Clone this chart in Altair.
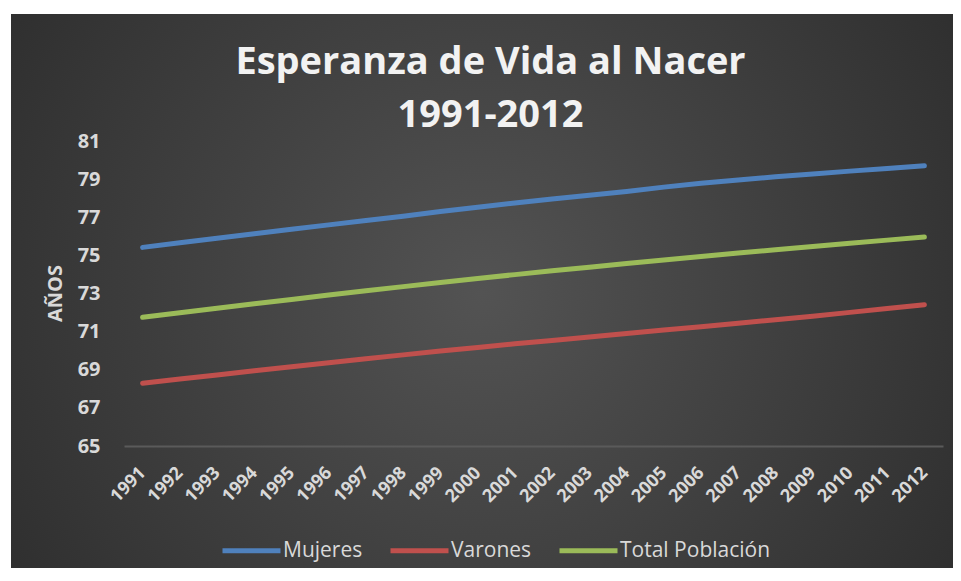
import altair as alt
import pandas as pd

years = list(range(1991, 2013))
mujeres = [75.42, 75.66, 75.90, 76.14, 76.37, 76.60, 76.83, 77.05, 77.30, 77.53, 77.75,
           77.96, 78.16, 78.35, 78.58, 78.78, 78.95, 79.12, 79.27, 79.42, 79.56, 79.70]
varones = [68.29, 68.51, 68.73, 68.95, 69.16, 69.37, 69.58, 69.78, 69.98, 70.17, 70.36,
           70.54, 70.72, 70.90, 71.08, 71.26, 71.44, 71.62, 71.81, 72.01, 72.21, 72.41]
total = [71.75, 71.99, 72.23, 72.46, 72.69, 72.92, 73.14, 73.36, 73.58, 73.79, 73.99,
         74.19, 74.38, 74.57, 74.76, 74.94, 75.12, 75.30, 75.47, 75.64, 75.80, 75.96]
series = ["Mujeres", "Varones", "Total Población"]
colors = ["#4F81BD", "#C0504D", "#9BBB59"]
y_ticks = [65, 67, 69, 71, 73, 75, 77, 79, 81]

rows = []
for name, vals in zip(series, [mujeres, varones, total]):
    for yr, v in zip(years, vals):
        rows.append({"Año": str(yr), "Serie": name, "Valor": v})
df = pd.DataFrame(rows)

FONT = "Open Sans"
W, H = 819, 305

bg = alt.Chart(pd.DataFrame({"a": [0]})).mark_rect(
    fill={
        "gradient": "radial",
        "x1": 0.5, "y1": 0.5, "r1": 0,
        "x2": 0.5, "y2": 0.5, "r2": 0.75,
        "stops": [
            {"offset": 0, "color": "#535353"},
            {"offset": 1, "color": "#252525"},
        ],
    },
    stroke=None,
).encode(
    x=alt.value(-113), x2=alt.value(830),
    y=alt.value(-127), y2=alt.value(430),
)

lines = alt.Chart(df).mark_line(strokeWidth=5, strokeCap="round").encode(
    x=alt.X("Año:O", title=None,
            scale=alt.Scale(type="point", padding=0.5),
            axis=alt.Axis(labelAngle=-45, labelAlign="right", labelBaseline="middle",
                          labelFont=FONT, labelFontSize=18, labelFontWeight="bold",
                          labelColor="#d9d9d9", labelPadding=24, ticks=False,
                          domainColor="#5a5a5a", domainWidth=2, grid=False, zindex=1)),
    y=alt.Y("Valor:Q", title="AÑOS",
            scale=alt.Scale(domain=[65, 81], nice=False, zero=False),
            axis=alt.Axis(values=y_ticks, grid=False, ticks=False, domain=False, zindex=1,
                          labelFont=FONT, labelFontSize=20, labelFontWeight="bold",
                          labelColor="#d9d9d9", labelPadding=24,
                          titleFont=FONT, titleFontSize=20, titleFontWeight="bold",
                          titleColor="#d9d9d9", titleX=-69, titleY=152,
                          titleAngle=270, titleAlign="center", titleBaseline="middle")),
    color=alt.Color("Serie:N", sort=series,
                    scale=alt.Scale(domain=series, range=colors),
                    legend=alt.Legend(title=None, orient="none", direction="horizontal",
                                      legendX=96, legendY=378, zindex=1,
                                      symbolType="stroke", symbolSize=3364,
                                      symbolStrokeWidth=5, labelOffset=0,
                                      columnPadding=17,
                                      labelFont=FONT, labelFontSize=21,
                                      labelColor="#d9d9d9")),
)

chart = alt.layer(bg, lines).properties(
    width=W, height=H,
    title=alt.Title(["Esperanza de Vida al Nacer", "1991-2012"],
                    font=FONT, fontSize=38, fontWeight="bold", color="#f2f2f2",
                    lineHeight=53, anchor="middle", frame="group", dx=-43, dy=121,
                    offset=0, zindex=1),
    autosize=alt.AutoSizeParams(type="none"),
    padding={"left": 116, "top": 133, "right": 10, "bottom": 122},
).configure_view(stroke=None).configure(background="white")

chart.save("out.html", embed_options={"renderer": "svg", "actions": False})
